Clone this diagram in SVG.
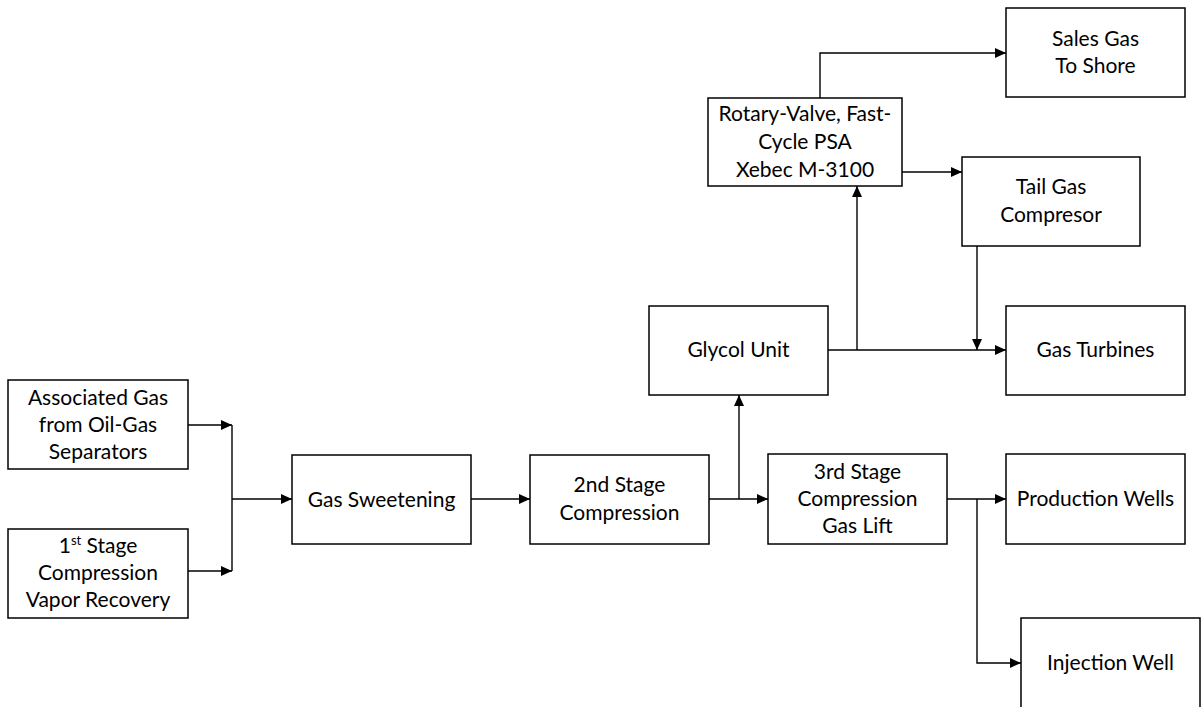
<svg xmlns="http://www.w3.org/2000/svg" width="1201" height="707" viewBox="0 0 1201 707">
<style>
.box{fill:#fff;stroke:#000;stroke-width:1.5}
.c{fill:none;stroke:#000;stroke-width:1.4}
text{font-family:Lato,"Open Sans","Liberation Sans",sans-serif;font-size:21px;fill:#000;text-anchor:middle}
</style>
<defs>
<marker id="ah" viewBox="0 0 11 10" refX="11" refY="5" markerWidth="11" markerHeight="10" markerUnits="userSpaceOnUse" orient="auto">
<path d="M0,0 L11,5 L0,10 Z" fill="#000"/>
</marker>
</defs>
<rect width="1201" height="707" fill="#fff"/>
<g id="connectors">
<path class="c" d="M188,425 H232" marker-end="url(#ah)"/>
<path class="c" d="M188,571 H232" marker-end="url(#ah)"/>
<path class="c" d="M232,425 V571"/>
<path class="c" d="M232,499 H292" marker-end="url(#ah)"/>
<path class="c" d="M471,499 H530" marker-end="url(#ah)"/>
<path class="c" d="M709,499 H768" marker-end="url(#ah)"/>
<path class="c" d="M739,499 V395" marker-end="url(#ah)"/>
<path class="c" d="M828,350 H1006" marker-end="url(#ah)"/>
<path class="c" d="M857,350 V186" marker-end="url(#ah)"/>
<path class="c" d="M820,98 V53 H1006" marker-end="url(#ah)"/>
<path class="c" d="M902,172 H962" marker-end="url(#ah)"/>
<path class="c" d="M977,246 V350" marker-end="url(#ah)"/>
<path class="c" d="M947,499 H1006" marker-end="url(#ah)"/>
<path class="c" d="M977,499 V663 H1021" marker-end="url(#ah)"/>
</g>
<g id="associated-gas">
<rect class="box" x="8" y="380" width="180" height="89"/>
<text x="98" y="405">Associated Gas</text>
<text x="98" y="432">from Oil-Gas</text>
<text x="98" y="459">Separators</text>
</g>
<g id="first-stage">
<rect class="box" x="8" y="529" width="180" height="89"/>
<text x="98" y="553">1<tspan font-size="13" baseline-shift="super">st</tspan> Stage</text>
<text x="98" y="580">Compression</text>
<text x="98" y="607">Vapor Recovery</text>
</g>
<g id="gas-sweetening">
<rect class="box" x="292" y="455" width="179" height="89"/>
<text x="381.5" y="506.5">Gas Sweetening</text>
</g>
<g id="second-stage">
<rect class="box" x="530" y="455" width="179" height="89"/>
<text x="619.5" y="492">2nd Stage</text>
<text x="619.5" y="520">Compression</text>
</g>
<g id="third-stage">
<rect class="box" x="768" y="454" width="179" height="90"/>
<text x="857.5" y="479">3rd Stage</text>
<text x="857.5" y="506">Compression</text>
<text x="857.5" y="533">Gas Lift</text>
</g>
<g id="production-wells">
<rect class="box" x="1006" y="454" width="179" height="90"/>
<text x="1095.5" y="506">Production Wells</text>
</g>
<g id="injection-well">
<rect class="box" x="1021" y="618" width="179" height="90"/>
<text x="1110.5" y="670">Injection Well</text>
</g>
<g id="glycol-unit">
<rect class="box" x="649" y="306" width="179" height="89"/>
<text x="738.5" y="357">Glycol Unit</text>
</g>
<g id="gas-turbines">
<rect class="box" x="1006" y="306" width="179" height="89"/>
<text x="1095.5" y="357">Gas Turbines</text>
</g>
<g id="tail-gas-compressor">
<rect class="box" x="962" y="157" width="178" height="89"/>
<text x="1051" y="194">Tail Gas</text>
<text x="1051" y="222">Compresor</text>
</g>
<g id="psa">
<rect class="box" x="708" y="98" width="194" height="88"/>
<text x="805" y="121">Rotary-Valve, Fast-</text>
<text x="805" y="149">Cycle PSA</text>
<text x="805" y="177">Xebec M-3100</text>
</g>
<g id="sales-gas">
<rect class="box" x="1006" y="8" width="179" height="89"/>
<text x="1095.5" y="46">Sales Gas</text>
<text x="1095.5" y="73">To Shore</text>
</g>
</svg>
